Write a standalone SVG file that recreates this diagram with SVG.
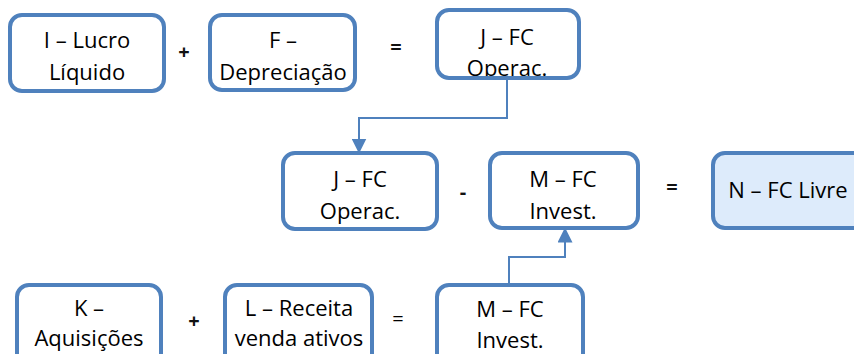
<svg xmlns="http://www.w3.org/2000/svg" width="854" height="354" viewBox="0 0 854 354">
<style>
.box{fill:#ffffff;stroke:#4F81BD;stroke-width:4}
.hl{fill:#DDEBFB}
.t{font-family:"Open Sans","Noto Sans",sans-serif;font-size:22px;fill:#000;text-anchor:middle}
.op{font-family:"Open Sans","Noto Sans",sans-serif;font-size:20px;font-weight:bold;fill:#111;text-anchor:middle}
.con{fill:none;stroke:#4F81BD;stroke-width:2}
</style>
<defs>
<marker id="ah" viewBox="0 0 10 10" refX="9" refY="5" markerWidth="7.5" markerHeight="7.5" orient="auto" markerUnits="strokeWidth">
<path d="M0,0 L10,5 L0,10 z" fill="#4F81BD"/>
</marker>
<clipPath id="cI"><rect x="12" y="17" width="150" height="72" rx="10"/></clipPath>
<clipPath id="cF"><rect x="212" y="17" width="141" height="71" rx="10"/></clipPath>
<clipPath id="cJ1"><rect x="439" y="12" width="138" height="64" rx="10"/></clipPath>
<clipPath id="cJ2"><rect x="285" y="155" width="150" height="72" rx="10"/></clipPath>
<clipPath id="cM2"><rect x="492" y="155" width="144" height="71" rx="10"/></clipPath>
<clipPath id="cN"><rect x="715" y="155" width="160" height="71" rx="10"/></clipPath>
<clipPath id="cK"><rect x="19" y="287" width="140" height="80" rx="10"/></clipPath>
<clipPath id="cL"><rect x="227" y="287" width="143" height="80" rx="10"/></clipPath>
<clipPath id="cM3"><rect x="439" y="287" width="142" height="80" rx="10"/></clipPath>
</defs>
<g id="connectors">
<path class="con" d="M507,80 V118 H359 V152" marker-end="url(#ah)"/>
<path class="con" d="M509,285 V257 H565 V229" marker-end="url(#ah)"/>
</g>
<g id="I">
<rect class="box" x="10" y="15" width="154" height="76" rx="12"/>
<g clip-path="url(#cI)"><text class="t" x="87" y="48">I – Lucro</text><text class="t" x="87" y="80">Líquido</text></g>
</g>
<text class="op" x="184" y="59">+</text>
<g id="F">
<rect class="box" x="210" y="15" width="145" height="75" rx="12"/>
<g clip-path="url(#cF)"><text class="t" x="283" y="48">F –</text><text class="t" x="283" y="80">Depreciação</text></g>
</g>
<text class="op" x="396" y="54">=</text>
<g id="J1">
<rect class="box" x="437" y="10" width="142" height="68" rx="12"/>
<g clip-path="url(#cJ1)"><text class="t" x="507" y="45">J – FC</text><text class="t" x="507" y="76">Operac.</text></g>
</g>
<g id="J2">
<rect class="box" x="283" y="153" width="154" height="76" rx="12"/>
<g clip-path="url(#cJ2)"><text class="t" x="360" y="187">J – FC</text><text class="t" x="360" y="219">Operac.</text></g>
</g>
<text class="op" x="463" y="199">-</text>
<g id="M2">
<rect class="box" x="490" y="153" width="148" height="75" rx="12"/>
<g clip-path="url(#cM2)"><text class="t" x="563" y="187">M – FC</text><text class="t" x="563" y="219">Invest.</text></g>
</g>
<text class="op" x="672" y="194">=</text>
<g id="N">
<rect class="box hl" x="713" y="153" width="164" height="75" rx="12"/>
<g clip-path="url(#cN)"><text class="t" x="788" y="198">N – FC Livre</text></g>
</g>
<g id="K">
<rect class="box" x="17" y="285" width="144" height="84" rx="12"/>
<g clip-path="url(#cK)"><text class="t" x="89" y="316">K –</text><text class="t" x="89" y="346">Aquisições</text></g>
</g>
<text class="op" x="194" y="328">+</text>
<g id="L">
<rect class="box" x="225" y="285" width="147" height="84" rx="12"/>
<g clip-path="url(#cL)"><text class="t" x="299" y="316">L – Receita</text><text class="t" x="299" y="346">venda ativos</text></g>
</g>
<text class="t" x="398" y="326" style="font-size:20px">=</text>
<g id="M3">
<rect class="box" x="437" y="285" width="146" height="84" rx="12"/>
<g clip-path="url(#cM3)"><text class="t" x="510" y="317">M – FC</text><text class="t" x="510" y="348">Invest.</text></g>
</g>
</svg>
